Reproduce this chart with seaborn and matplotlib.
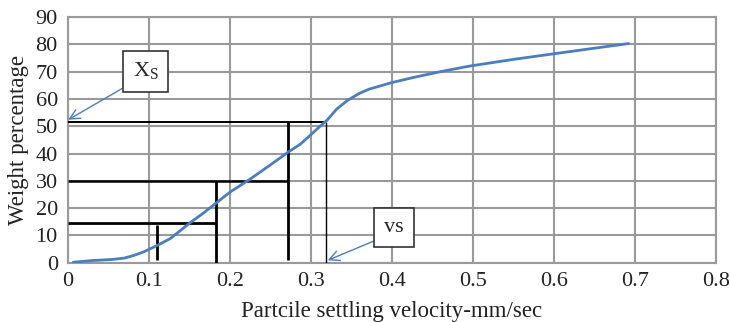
import matplotlib
matplotlib.use("Agg")
import matplotlib.pyplot as plt
import seaborn as sns
import pandas as pd

# curve
velocity = [0.007, 0.030, 0.055, 0.070, 0.082, 0.094, 0.109, 0.127, 0.151, 0.168,
            0.183, 0.201, 0.225, 0.250, 0.273, 0.287, 0.299, 0.310, 0.320, 0.332,
            0.345, 0.359, 0.372, 0.386, 0.400, 0.427, 0.460, 0.495, 0.550, 0.601,
            0.650, 0.692]
weight = [0.2, 0.8, 1.2, 1.7, 2.7, 4.0, 6.1, 8.9, 14.6, 18.3,
          21.8, 26.0, 30.6, 35.8, 40.7, 43.4, 46.6, 49.6, 52.2, 56.3,
          59.4, 61.9, 63.6, 64.8, 66.0, 67.9, 70.0, 72.0, 74.5, 76.6,
          78.6, 80.3]

# construction lines (velocity, top / percentage, right end)
v_lines = [0.110, 0.183, 0.272, 0.319]
v_bottoms = [1.0, 0.0, 1.0, 0.0]
v_tops = [13.8, 30.0, 51.6, 51.6]
v_widths = [2.0, 2.0, 2.0, 1.0]
h_lines = [14.65, 30.0, 51.6]
h_ends = [0.183, 0.272, 0.319]
h_widths = [2.0, 1.8, 1.4]

x_ticks = [0, 0.1, 0.2, 0.3, 0.4, 0.5, 0.6, 0.7, 0.8]
x_labels = ["0", "0.1", "0.2", "0.3", "0.4", "0.5", "0.6", "0.7", "0.8"]
y_ticks = [0, 10, 20, 30, 40, 50, 60, 70, 80, 90]

sns.set_style("white")
plt.rcParams["font.family"] = ["Liberation Serif", "DejaVu Serif"]
plt.rcParams["mathtext.fontset"] = "custom"
plt.rcParams["mathtext.rm"] = "Liberation Serif"

df = pd.DataFrame({"v": velocity, "w": weight})

fig = plt.figure(figsize=(7.3, 3.22), dpi=100)
ax = fig.add_axes([0.0925, 0.184, 0.8885, 0.763])

grid_c = "#9a9a9a"
ax.set_xlim(0, 0.8)
ax.set_ylim(0, 90)
ax.set_xticks(x_ticks)
ax.set_xticklabels(x_labels)
ax.set_yticks(y_ticks)
ax.grid(True, color=grid_c, linewidth=1.5)
ax.set_axisbelow(True)
for s in ax.spines.values():
    s.set_color(grid_c)
    s.set_linewidth(1.5)
ax.tick_params(axis="both", direction="out", length=4, width=1.5, color=grid_c,
               labelsize=16, labelcolor="#222222", pad=3)

for x, b, t, lw in zip(v_lines, v_bottoms, v_tops, v_widths):
    ax.vlines(x, b, t, color="black", linewidth=lw, zorder=3)
for y, e, lw in zip(h_lines, h_ends, h_widths):
    ax.hlines(y, 0, e, color="black", linewidth=lw, zorder=3)

sns.lineplot(data=df, x="v", y="w", sort=False, color="#4a7ec0", linewidth=2.0,
             ax=ax, zorder=4)

arrow = dict(arrowstyle="->", color="#4a7ec0", lw=1.0, mutation_scale=18,
             shrinkA=0, shrinkB=0)
box = dict(boxstyle="square,pad=0.45", facecolor="white", edgecolor="#333333", lw=1.2)
ax.annotate("X$_\\mathrm{S}$", xy=(0.001, 52.4), xytext=(0.0962, 70.0),
            fontsize=16, ha="center", va="center", bbox=box,
            arrowprops=dict(arrow, relpos=(0.0, 0.0)), zorder=5)
ax.annotate("vs", xy=(0.321, 0.9), xytext=(0.4025, 13.0),
            fontsize=16, ha="center", va="center", bbox=box,
            arrowprops=dict(arrow, relpos=(0.0, 0.0)), zorder=5)

ax.set_xlabel("Partcile settling velocity-mm/sec", fontsize=16.5, color="#222222", labelpad=7)
ax.set_ylabel("Weight percentage", fontsize=16.5, color="#222222", labelpad=5)

fig.savefig("out.png", dpi=100)
